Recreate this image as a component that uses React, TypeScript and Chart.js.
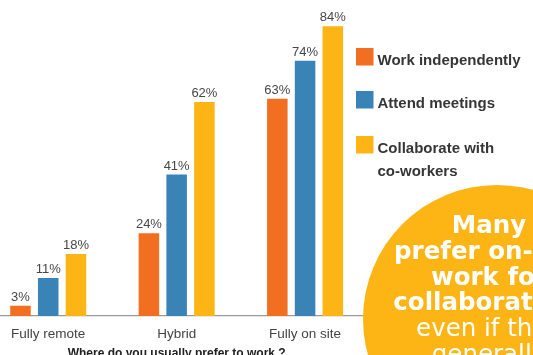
import React, { useEffect, useRef } from "react";
import { Chart, registerables } from "chart.js";

Chart.register(...registerables);

// ---- data ----
const categories = ["Fully remote", "Hybrid", "Fully on site"];
const seriesLabels = ["Work independently", "Attend meetings", "Collaborate with co-workers"];
const workIndependently = [3, 24, 63];
const attendMeetings = [11, 41, 74];
const collaborateWithCoworkers = [18, 62, 84];
const seriesColors = ["#F26F21", "#3A83B7", "#FDB515"];
const legendLines = [["Work independently"], ["Attend meetings"], ["Collaborate with", "co-workers"]];
const axisTitle = "Where do you usually prefer to work ?";
const calloutBold = ["Many", "prefer on-site", "work for", "collaboration,"];
const calloutRegular = ["even if they", "generally"];

const FONT = "'Liberation Sans', Arial, Helvetica, sans-serif";
const CALLOUT_FONT = "'DejaVu Sans', Verdana, sans-serif";
const SHIFT = 16; // canvas is shifted left by this many px
const CW = 560;
const CH = 380;

const valueLabels = {
  id: "valueLabels",
  afterDatasetsDraw(chart: any) {
    const ctx = chart.ctx;
    ctx.save();
    ctx.font = `13px ${FONT}`;
    ctx.fillStyle = "#474747";
    ctx.textAlign = "center";
    ctx.textBaseline = "middle";
    chart.data.datasets.forEach((ds: any, i: number) => {
      const meta = chart.getDatasetMeta(i);
      meta.data.forEach((bar: any, j: number) => {
        ctx.fillText(`${ds.data[j]}%`, bar.x, bar.y - 8.5);
      });
    });
    ctx.restore();
  },
};

const legendAndCallout = {
  id: "legendAndCallout",
  afterDraw(chart: any) {
    const ctx = chart.ctx;
    ctx.save();
    // legend
    const boxTops = [48, 91, 136];
    const boxX = SHIFT + 356;
    const textX = SHIFT + 377.5;
    ctx.font = `bold 15px ${FONT}`;
    ctx.textAlign = "left";
    ctx.textBaseline = "alphabetic";
    legendLines.forEach((lines, i) => {
      ctx.fillStyle = seriesColors[i];
      ctx.fillRect(boxX, boxTops[i], 17.5, 17.5);
      ctx.fillStyle = "#363636";
      lines.forEach((line, k) => {
        ctx.fillText(line, textX, boxTops[i] + 16.5 + k * 23);
      });
    });

    // callout circle
    ctx.beginPath();
    ctx.arc(SHIFT + 497, 319, 134, 0, Math.PI * 2);
    ctx.fillStyle = "#FDB515";
    ctx.fill();

    ctx.fillStyle = "#ffffff";
    ctx.textAlign = "center";
    const cx = SHIFT + 489;
    const baselines = [233, 259, 285, 310, 336, 362];
    ctx.font = `bold 24.5px ${CALLOUT_FONT}`;
    calloutBold.forEach((line, i) => ctx.fillText(line, cx, baselines[i]));
    ctx.font = `24.5px ${CALLOUT_FONT}`;
    calloutRegular.forEach((line, i) =>
      ctx.fillText(line, cx, baselines[calloutBold.length + i])
    );
    ctx.restore();
  },
};

export default function App() {
  const ref = useRef<HTMLCanvasElement | null>(null);

  useEffect(() => {
    if (!ref.current) return;
    const seriesData = [workIndependently, attendMeetings, collaborateWithCoworkers];
    const chart = new Chart(ref.current, {
      type: "bar",
      data: {
        labels: categories,
        datasets: seriesData.map((d, i) => ({
          label: seriesLabels[i],
          data: d,
          backgroundColor: seriesColors[i],
          borderWidth: 0,
          categoryPercentage: 0.648,
          barPercentage: 0.74,
        })),
      },
      options: {
        responsive: false,
        animation: false,
        devicePixelRatio: 1,
        layout: { padding: { left: 0, right: CW - SHIFT - 369.3, top: 5.5, bottom: 19.6 } },
        plugins: {
          legend: { display: false },
          tooltip: { enabled: false },
        },
        scales: {
          x: {
            grid: { display: false, drawTicks: false },
            border: { display: true, color: "#9a9a9a", width: 1.2 },
            ticks: {
              color: "#444444",
              font: { family: FONT, size: 13.5, lineHeight: 1.2 },
              padding: 10,
              maxRotation: 0,
              autoSkip: false,
            },
            title: {
              display: true,
              text: axisTitle,
              color: "#222222",
              font: { family: FONT, size: 12, weight: "bold", lineHeight: 1.2 },
              padding: { top: -6.2, bottom: 0 },
            },
          },
          y: {
            display: false,
            min: 0,
            max: 90,
          },
        },
      },
      plugins: [valueLabels, legendAndCallout],
    } as any);
    return () => chart.destroy();
  }, []);

  return (
    <div
      style={{
        position: "fixed",
        left: 0,
        top: 0,
        width: 533,
        height: 355,
        overflow: "hidden",
        background: "#ffffff",
      }}
    >
      <canvas
        ref={ref}
        width={CW}
        height={CH}
        style={{ position: "absolute", left: -SHIFT, top: 0, width: CW, height: CH }}
      />
    </div>
  );
}
